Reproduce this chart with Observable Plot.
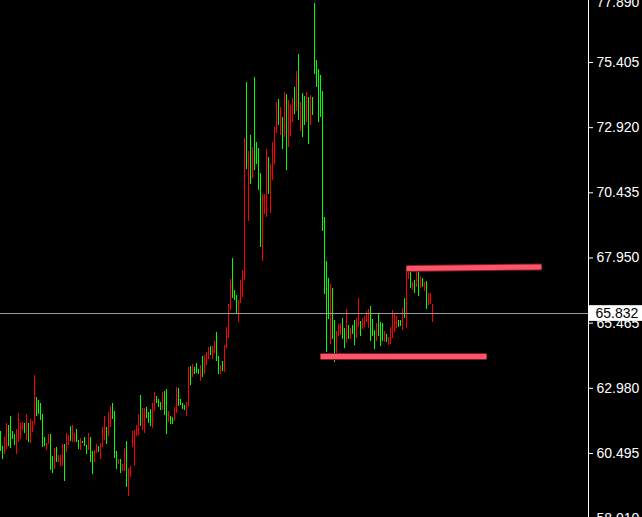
<!DOCTYPE html>
<html><head><meta charset="utf-8">
<script src="https://cdn.jsdelivr.net/npm/d3@7"></script>
<script src="https://cdn.jsdelivr.net/npm/@observablehq/plot@0.6"></script>
<style>html,body{margin:0;padding:0;background:#000;overflow:hidden}</style>
</head><body><div id="chart"></div>
<script>
const highs = [
61.334,60.762,61.105,61.639,61.563,61.906,61.334,61.219,61.410,62.020,
61.639,61.677,61.639,61.982,61.639,61.791,61.715,63.469,62.630,62.516,
62.402,61.982,61.105,60.876,61.219,61.219,60.381,60.686,60.724,60.419,
60.419,60.838,60.838,61.258,61.181,61.525,61.563,61.258,61.410,60.991,
61.067,60.953,61.105,60.800,61.258,61.105,60.571,60.609,60.838,60.762,
60.876,61.487,61.906,61.487,62.058,62.287,62.402,62.097,60.571,60.266,
60.266,60.076,60.686,60.953,59.923,60.000,61.334,61.372,61.563,61.982,
62.706,62.211,62.211,62.249,62.058,62.173,62.402,62.821,62.668,62.554,
62.440,62.821,62.859,62.935,62.097,61.906,61.868,62.249,63.011,62.973,
62.554,62.402,62.325,62.440,63.774,63.812,63.888,63.774,63.927,63.698,
63.850,64.194,64.232,64.346,64.537,64.575,64.575,64.766,65.109,64.194,
63.850,64.003,64.613,65.299,66.176,67.129,67.930,66.710,66.519,66.329,
67.091,67.473,72.507,74.642,72.011,72.621,72.164,74.833,72.355,72.126,
71.173,70.371,70.371,72.088,71.783,71.516,72.355,72.927,73.880,73.994,
73.689,73.308,74.261,74.184,73.956,73.765,74.032,74.451,75.062,75.710,
73.880,74.223,74.108,74.261,74.070,74.146,74.070,77.655,75.481,75.138,
74.909,74.299,69.494,67.816,67.168,66.939,66.787,65.566,65.147,65.414,
65.452,65.643,65.261,65.986,65.376,65.261,65.376,65.566,65.643,66.405,
65.528,65.643,65.719,65.910,65.986,66.100,65.604,65.185,65.452,65.795,
65.490,65.452,65.147,65.033,64.918,65.299,65.948,65.795,65.719,65.566,
65.566,66.024,66.405,67.511,67.549,67.549,67.015,67.091,67.549,67.549,
67.244,67.168,67.015,67.053,66.596,66.596,66.176
];
const lows = [
60.571,60.266,60.457,60.647,60.762,60.686,61.029,60.800,60.457,60.914,
61.029,61.372,61.258,60.991,60.914,60.876,61.296,61.563,61.906,61.982,
61.753,60.724,60.762,60.609,60.838,59.847,59.732,59.885,60.152,60.152,
60.000,60.000,59.427,60.533,60.800,60.953,60.914,60.914,60.914,60.647,
60.609,60.876,60.762,60.457,60.609,60.152,59.694,60.152,60.495,60.533,
60.266,60.724,60.991,60.838,61.143,61.487,61.791,60.304,59.885,60.076,
59.732,59.809,59.809,59.198,58.855,59.580,60.724,60.000,61.143,61.181,
61.525,61.372,61.258,61.830,61.639,61.525,61.448,62.097,62.402,62.249,
62.135,62.135,61.944,61.219,61.677,61.601,61.601,61.715,62.020,62.287,
62.325,62.173,62.135,61.906,62.287,63.088,63.393,63.507,63.545,63.507,
63.240,63.393,63.507,63.850,64.079,64.232,64.079,64.308,64.003,63.507,
63.507,63.622,63.583,64.499,64.880,65.948,66.405,66.329,65.833,65.490,
66.215,66.443,67.091,71.325,69.341,70.752,70.981,71.286,71.516,70.523,
68.350,67.816,69.608,69.494,70.371,69.646,70.905,71.516,72.698,73.003,
72.621,72.088,72.545,71.286,72.164,72.583,73.117,73.422,73.536,73.193,
72.774,72.545,73.003,73.117,72.278,73.003,73.384,74.947,74.451,73.117,
73.308,68.960,66.558,64.346,65.604,64.651,64.842,63.965,64.270,64.956,
64.994,64.842,64.499,64.689,64.842,64.842,65.033,64.613,64.880,65.299,
64.956,65.223,65.299,65.490,65.261,64.766,64.956,64.461,64.766,64.956,
64.575,64.766,64.728,64.728,64.613,64.651,64.880,65.109,65.261,65.299,
65.338,65.185,65.643,65.261,67.129,66.787,66.710,66.596,66.825,66.481,
66.787,66.825,66.672,65.986,66.138,66.176,65.490
];
// 1 = bullish (green), 0 = bearish (red)
const up = [
1,1,0,0,1,1,1,1,0,0,
0,0,1,0,1,0,0,0,1,1,
1,1,1,0,0,1,1,0,1,0,
0,0,1,0,0,1,0,0,1,1,
0,1,1,1,0,1,1,0,0,1,
0,0,0,1,0,0,1,1,1,0,
1,0,0,1,0,0,0,0,0,0,
1,0,0,1,1,1,0,0,1,1,
1,0,1,1,0,1,1,0,0,1,
1,1,1,0,0,1,0,1,1,1,
0,1,0,0,0,1,0,0,1,1,
0,1,0,0,0,0,1,1,1,0,
0,0,0,1,0,1,0,1,1,1,
1,0,0,0,1,0,0,0,0,1,
0,1,0,1,0,0,0,1,0,1,
0,1,1,0,1,0,1,1,1,1,
1,1,1,1,1,0,1,1,0,0,
0,1,1,0,1,0,1,1,0,0,
1,0,0,0,0,1,1,1,0,1,
1,1,0,1,0,0,0,0,0,1,
1,0,1,0,0,1,0,1,0,1,
0,1,0,1,0,0,0
];
const yTicks = [75.405, 72.920, 70.435, 67.950, 65.465, 62.980, 60.495, 58.010];
const topTick = 77.890;
const lastPrice = 65.832;
// drawn support / resistance levels (bar index, price)
const levelStart = [203, 160];
const levelEnd = [270.5, 243];
const levelPriceStart = [67.55, 64.19];
const levelPriceEnd = [67.61, 64.19];

const bars = highs.map((h, i) => ({i, high: h, low: lows[i], c: up[i] ? "#00ff00" : "#ff0000"}));
const levels = levelStart.map((s, k) => ({x1: s, x2: levelEnd[k], y1: levelPriceStart[k], y2: levelPriceEnd[k]}));

const font = "Liberation Sans, Arial, sans-serif";
const chart = Plot.plot({
  width: 642, height: 517,
  marginLeft: 0, marginRight: 54, marginTop: 0, marginBottom: 0,
  x: {type: "linear", domain: [0, 294], axis: null},
  y: {domain: [58.054, 77.769], axis: null},
  color: {type: "identity"},
  style: {background: "#000", color: "#fff", fontFamily: font, fontSize: "14px"},
  marks: [
    Plot.ruleX(bars, {x: "i", y1: "low", y2: "high", stroke: "c", strokeWidth: 1}),
    Plot.ruleY([lastPrice], {y: d => d, stroke: "#9aa0a8", strokeWidth: 1}),
    Plot.link(levels, {x1: "x1", x2: "x2", y1: "y1", y2: "y2", stroke: "#7a1e28", strokeWidth: 7}),
    Plot.link(levels, {x1: "x1", x2: "x2", y1: "y1", y2: "y2", stroke: "#ff5468", strokeWidth: 5}),
    Plot.ruleX([294], {x: d => d, stroke: "#ffffff"}),
    Plot.axisY(yTicks, {anchor: "right", tickSize: 4, tickPadding: 4, tickFormat: d => d.toFixed(3), fontSize: 14, fill: "#fff", stroke: "#fff"}),
    Plot.text([topTick], {x: () => 294, y: d => d, dx: 8, dy: 5, text: d => d.toFixed(3), textAnchor: "start", fill: "#fff", fontSize: 14}),
    Plot.rect([lastPrice], {x1: () => 294.5, x2: () => 321, y1: d => d - 0.3, y2: d => d + 0.3, fill: "#ffffff"}),
    Plot.text([lastPrice], {x: () => 294, y: d => d, dx: 7, text: d => d.toFixed(3), textAnchor: "start", fill: "#000", fontSize: 14})
  ]
});
document.getElementById("chart").appendChild(chart);
</script>
</body></html>
